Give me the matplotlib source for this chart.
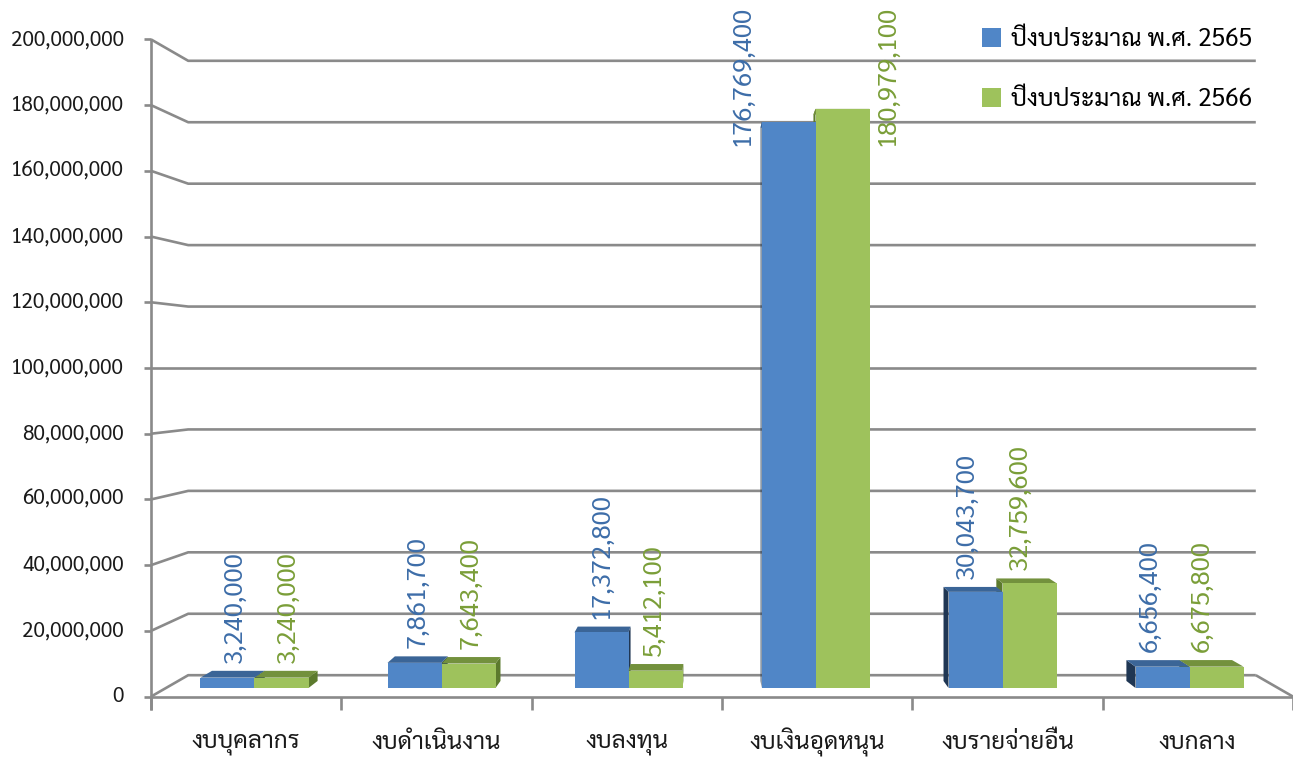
import matplotlib
matplotlib.use("Agg")
import matplotlib.pyplot as plt
from matplotlib.patches import Polygon, Patch

plt.rcParams['font.family'] = ['Sarabun', 'DejaVu Sans']

# ---- data -------------------------------------------------------------
categories = ['งบบุคลากร', 'งบดำเนินงาน', 'งบลงทุน',
              'งบเงินอุดหนุน', 'งบรายจ่ายอื่น', 'งบกลาง']
budget_2565 = [3240000, 7861700, 17372800, 176769400, 30043700, 6656400]
budget_2566 = [3240000, 7643400, 5412100, 180979100, 32759600, 6675800]
series_labels = ['ปีงบประมาณ พ.ศ. 2565', 'ปีงบประมาณ พ.ศ. 2566']
y_ticks = list(range(0, 200000001, 20000000))

# ---- styling ----------------------------------------------------------
face_colors = ['#5086C7', '#9EC25C']
top_colors = ['#3B6597', '#73913D']
side_colors = ['#1F3653', '#5C7A2D']
label_colors = ['#3D6DA8', '#7A9E38']
grid_color = '#8A8A8A'

W, H, DPI = 1293, 759, 100
PX_PER_CAT = 187.0          # pixels per category step on the bar plane
PX_PER_VAL = 3.2e-6         # pixels per baht on the bar plane
CENTER_X_PX = 722.0         # vanishing centre, pixels from left
ZERO_Y_PX = 688.0           # bar-plane zero line, pixels from top

CC = 2.5                    # category coordinate of the vanishing centre
VC = 100e6                  # value coordinate of the vanishing centre
R_FRONT = 1.0267            # scale of the front edge of the floor/walls
R_BACK = 0.960              # scale of the back wall
R_BAR_F = 1.0               # bar front faces
R_BAR_B = 0.978             # bar back faces
C_LEFT, C_RIGHT = -0.4735, 5.4735
BAR_W = 54.0 / PX_PER_CAT


def pt(px):
    return px * 72.0 / DPI


def proj(c, v, r):
    return (CC + (c - CC) * r, VC + (v - VC) * r)


fig = plt.figure(figsize=(W / DPI, H / DPI), dpi=DPI)
ax = fig.add_axes([0, 0, 1, 1])
ax.set_xlim(CC - CENTER_X_PX / PX_PER_CAT, CC + (W - CENTER_X_PX) / PX_PER_CAT)
ax.set_ylim(-(H - ZERO_Y_PX) / PX_PER_VAL, ZERO_Y_PX / PX_PER_VAL)
ax.axis('off')

line_kw = dict(color=grid_color, lw=1.9, solid_capstyle='butt', zorder=1)

# back wall gridlines with their left-wall segments and tick marks
for v in y_ticks:
    fx, fy = proj(C_LEFT, v, R_FRONT)
    bx, by = proj(C_LEFT, v, R_BACK)
    rx, ry = proj(C_RIGHT, v, R_BACK)
    ax.plot([fx, bx, rx], [fy, by, ry], **line_kw)
    ax.plot([fx - 7 / PX_PER_CAT, fx], [fy, fy], **line_kw)
    ax.annotate(f"{v:,}", xy=(fx, fy), xytext=(-pt(27), 0),
                textcoords='offset points', ha='right', va='center',
                fontsize=15, color='#1A1A1A')

# front vertical axis
x0, y0 = proj(C_LEFT, 0, R_FRONT)
x0t, ytop = proj(C_LEFT, y_ticks[-1], R_FRONT)
tick_len = 13 / PX_PER_VAL
ax.plot([x0, x0t], [y0 - tick_len, ytop], **line_kw)

# floor outline: front edge and right-hand edge
xr, yr = proj(C_RIGHT, 0, R_FRONT)
xbr, ybr = proj(C_RIGHT, 0, R_BACK)
ax.plot([x0, xr], [y0, yr], **line_kw)
ax.plot([xbr, xr], [ybr, yr], **line_kw)

# category ticks and labels on the front edge
n = len(categories)
step = (C_RIGHT - C_LEFT) / n
for k in range(n + 1):
    tx, ty = proj(C_LEFT + k * step, 0, R_FRONT)
    ax.plot([tx, tx], [ty, ty - tick_len], **line_kw)
for k, name in enumerate(categories):
    tx, ty = proj(C_LEFT + (k + 0.5) * step, 0, R_FRONT)
    ax.annotate(name, xy=(tx, ty), xytext=(0, -pt(46)),
                textcoords='offset points', ha='center', va='center',
                fontsize=17.5, color='#1A1A1A')

# ---- 3-D columns ------------------------------------------------------
series = [budget_2565, budget_2566]
z = 3
for i in range(n):
    order = [0, 1] if i < CC else [1, 0]
    for s in order:
        v = series[s][i]
        xl = i + (s - 1) * BAR_W
        xh = xl + BAR_W
        xc = 0.5 * (xl + xh)
        # side face toward the vanishing centre
        xs = xh if xc < CC else xl
        side = [proj(xs, 0, R_BAR_F), proj(xs, v, R_BAR_F),
                proj(xs, v, R_BAR_B), proj(xs, 0, R_BAR_B)]
        ax.add_patch(Polygon(side, closed=True, facecolor=side_colors[s],
                             edgecolor='none', zorder=z))
        top = [proj(xl, v, R_BAR_F), proj(xh, v, R_BAR_F),
               proj(xh, v, R_BAR_B), proj(xl, v, R_BAR_B)]
        ax.add_patch(Polygon(top, closed=True, facecolor=top_colors[s],
                             edgecolor='none', zorder=z + 0.1))
        ax.bar(xl, v, width=BAR_W, bottom=0, align='edge',
               color=face_colors[s], edgecolor='none', zorder=z + 0.2)
        z += 1

        # value label
        text = f"{v:,}"
        if v > 0.75 * y_ticks[-1]:
            # tall column: label set beside the column, hanging from the top
            edge = xl if s == 0 else xh
            dx = -pt(19) if s == 0 else pt(18)
            ax.annotate(text, xy=(edge, ax.get_ylim()[1]), xytext=(dx, -pt(6)),
                        textcoords='offset points', rotation=90,
                        ha='center', va='top', fontsize=18.5,
                        color=label_colors[s], zorder=20)
        else:
            lx, ly = proj(xc, v, R_BAR_B)
            ax.annotate(text, xy=(lx, ly), xytext=(-pt(3), pt(8)),
                        textcoords='offset points', rotation=90,
                        ha='center', va='bottom', fontsize=18.5,
                        color=label_colors[s], zorder=20)

# ---- legend -----------------------------------------------------------
handles = [Patch(facecolor=face_colors[0]), Patch(facecolor=face_colors[1])]
fig.legend(handles, series_labels, loc='upper right',
           bbox_to_anchor=(1262 / W, 1 - 17 / H), frameon=False,
           fontsize=17.6, handlelength=0.8, handleheight=0.8,
           handletextpad=0.4, labelspacing=1.45, borderaxespad=0)

fig.savefig('out.png', dpi=DPI)
